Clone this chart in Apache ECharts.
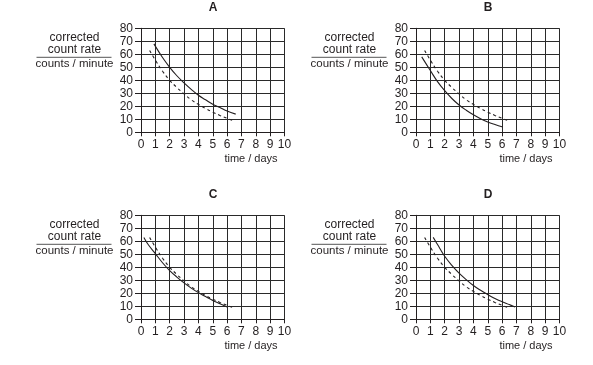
<!DOCTYPE html>
<html>
<head>
<meta charset="utf-8">
<script src="https://cdn.jsdelivr.net/npm/echarts@6/dist/echarts.min.js"></script>
<style>
html,body{margin:0;padding:0;background:#fff;}
#chart{width:593px;height:365px;}
</style>
</head>
<body>
<div id="chart"></div>
<script>
// ---- data ----
const panelTitles = ['A', 'B', 'C', 'D'];
const xTicks = [0, 1, 2, 3, 4, 5, 6, 7, 8, 9, 10];
const yTicks = [0, 10, 20, 30, 40, 50, 60, 70, 80];
const yLabelLines = ['corrected', 'count rate', 'counts / minute'];
const xLabel = 'time / days';

// dashed curve (same in every panel)
const dashedCurve = [[0.6,63],[1,55.5],[1.5,47],[2,40],[2.5,34.5],[3,29.5],[3.5,25],[4,21.5],[4.5,18.3],[5,15.5],[5.5,13],[6,10.8],[6.35,9.2]];
// solid curves
const solidA = [[0.9,68],[1.5,57.5],[2,50],[2.5,43.5],[3,38],[3.5,33],[4,28.5],[4.5,25],[5,21.5],[5.5,19],[6,16.3],[6.6,14]];
const solidB = [[0.4,58],[1,47.5],[1.5,39],[2,32],[2.5,26],[3,21],[3.5,17],[4,13.5],[4.5,10.5],[5,8],[5.5,6],[6.05,4]];
const solidC = [[0.2,63],[0.5,57.5],[1,50.5],[1.5,43.5],[2,37.5],[2.5,32.5],[3,28],[3.5,24],[4,20.5],[4.5,17.5],[5,14.5],[5.5,12],[6,9.5]];
const solidD = [[1.2,63],[1.5,57.5],[2,48.5],[2.5,41.5],[3,35.5],[3.5,30.5],[4,26],[4.5,22.3],[5,19],[5.5,16],[6,13.5],[6.5,11.3],[6.9,9.5]];
const solids = [solidA, solidB, solidC, solidD];

// ---- layout ----
const FONT = '"Liberation Sans", Arial, sans-serif';
const INK = '#231f20';
const panels = [
  {left: 141, top: 28.3},
  {left: 416, top: 28.3},
  {left: 141, top: 215.3},
  {left: 416, top: 215.3}
];
const GW = 143.5, GH = 104;

const grids = [], xAxes = [], yAxes = [], series = [], graphics = [];
panels.forEach((p, i) => {
  grids.push({left: p.left, top: p.top, width: GW, height: GH, containLabel: false});
  xAxes.push({
    type: 'value', gridIndex: i, min: xTicks[0], max: xTicks[xTicks.length - 1], interval: 1,
    axisLine: {show: true, onZero: false, lineStyle: {color: INK, width: 1}},
    axisTick: {show: true, length: 4, lineStyle: {color: INK}},
    axisLabel: {show: true, margin: 6, fontSize: 12, fontFamily: FONT, color: INK,
      formatter: v => xTicks.includes(v) ? String(v) : ''},
    splitLine: {show: true, lineStyle: {color: '#2a2a2a', width: 1}}
  });
  yAxes.push({
    type: 'value', gridIndex: i, min: yTicks[0], max: yTicks[yTicks.length - 1], interval: 10,
    axisLine: {show: true, onZero: false, lineStyle: {color: INK, width: 1}},
    axisTick: {show: true, length: 6, lineStyle: {color: INK}},
    axisLabel: {show: true, margin: 8, fontSize: 12, fontFamily: FONT, color: INK,
      formatter: v => yTicks.includes(v) ? String(v) : ''},
    splitLine: {show: true, lineStyle: {color: '#2a2a2a', width: 1}}
  });
  series.push({
    type: 'line', xAxisIndex: i, yAxisIndex: i, data: solids[i], smooth: 0.4,
    showSymbol: false, silent: true,
    lineStyle: {color: INK, width: 1.1, type: 'solid'}
  });
  series.push({
    type: 'line', xAxisIndex: i, yAxisIndex: i, data: dashedCurve, smooth: 0.4,
    showSymbol: false, silent: true,
    lineStyle: {color: INK, width: 1.1, type: [3, 3]}
  });

  // panel title
  graphics.push({type: 'text', left: p.left + GW / 2 - 4, top: p.top - 27,
    style: {text: panelTitles[i], font: 'bold 12px ' + FONT, fill: INK}});
  // y-axis label (fraction style)
  const cx = p.left - 66.5;
  graphics.push({type: 'text', x: cx, y: p.top + 9,
    style: {text: yLabelLines[0], font: '12px ' + FONT, fill: INK, textAlign: 'center', textVerticalAlign: 'middle'}});
  graphics.push({type: 'text', x: cx, y: p.top + 21.7,
    style: {text: yLabelLines[1], font: '12px ' + FONT, fill: INK, textAlign: 'center', textVerticalAlign: 'middle'}});
  graphics.push({type: 'line', shape: {x1: p.left - 104.5, y1: p.top + 29, x2: p.left - 29.5, y2: p.top + 29},
    style: {stroke: '#555', lineWidth: 1}});
  graphics.push({type: 'text', x: cx, y: p.top + 35.6,
    style: {text: yLabelLines[2], font: '11.5px ' + FONT, fill: INK, textAlign: 'center', textVerticalAlign: 'middle'}});
  // x-axis label
  graphics.push({type: 'text', x: p.left + 110, y: p.top + GH + 26.5,
    style: {text: xLabel, font: '11px ' + FONT, fill: INK, textAlign: 'center', textVerticalAlign: 'middle'}});
});

const chart = echarts.init(document.getElementById('chart'), null, {renderer: 'canvas'});
chart.setOption({
  animation: false,
  backgroundColor: '#fff',
  grid: grids,
  xAxis: xAxes,
  yAxis: yAxes,
  series: series,
  graphic: graphics
});
</script>
</body>
</html>
